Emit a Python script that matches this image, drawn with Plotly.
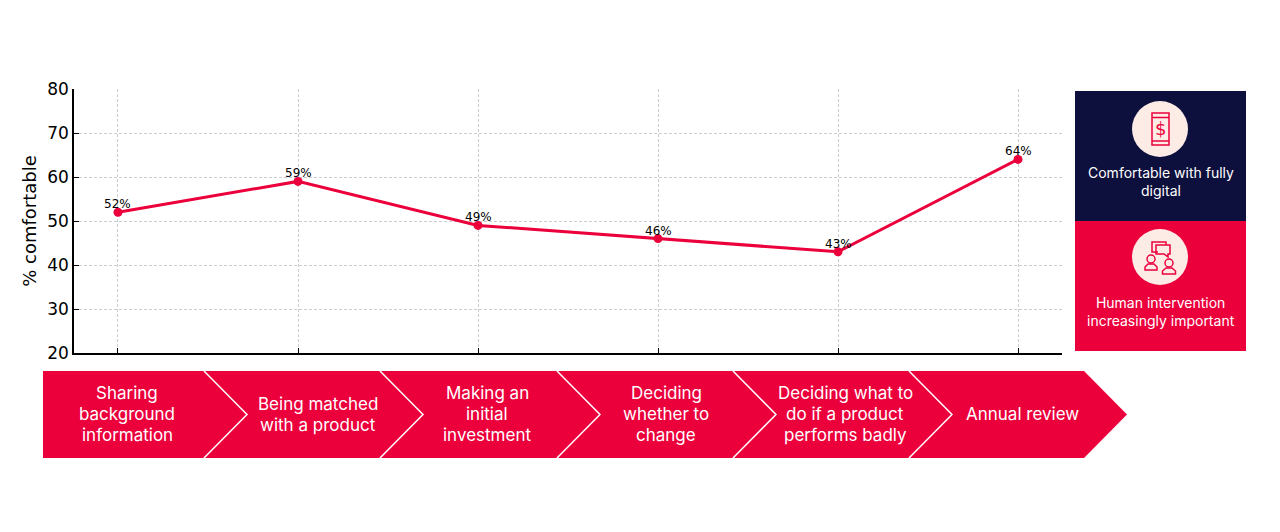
"""
Comfort with digital advice at each stage of the customer journey.
"""

import plotly.graph_objects as go

stages = ['Sharing background information', 'Being matched with a product', 'Making an initial investment',
          'Deciding whether to change', 'Deciding what to do if a product performs badly', 'Annual review']
comfortable = [52, 59, 49, 46, 43, 64]
value_labels = ['52%', '59%', '49%', '46%', '43%', '64%']
y_ticks = [20, 30, 40, 50, 60, 70, 80]

stage_lines = [['Sharing', 'background', 'information'], ['Being matched', 'with a product'],
               ['Making an', 'initial', 'investment'], ['Deciding', 'whether to', 'change'],
               ['Deciding what to', 'do if a product', 'performs badly'], ['Annual review']]
panel_labels = ['Comfortable with fully<br>digital', 'Human intervention<br>increasingly important']

W, H = 1280, 532
RED = '#EB003C'
NAVY = '#0D0F3D'
BLUSH = '#FDEBE6'
BODY_FONT = 'Inter'
AXIS_FONT = 'DejaVu Sans'
GRID = '#CCCCCC'


def fx(x):
    return x / W


def fy(y):
    return 1 - y / H


def path_shape(points, fill=None, line=None, width=1.5, close=True):
    """Build a shape from pixel points, given in page coordinates."""
    d = 'M' + ' L'.join(f'{fx(x):.5f},{fy(y):.5f}' for x, y in points) + (' Z' if close else '')
    return dict(type='path', xref='paper', yref='paper', path=d, fillcolor=fill or 'rgba(0,0,0,0)',
                line=dict(color=line or 'rgba(0,0,0,0)', width=width))


def oval(x0, y0, x1, y1, fill=None, line=None, width=1.5):
    return dict(type='circle', xref='paper', yref='paper', x0=fx(x0), x1=fx(x1), y0=fy(y1), y1=fy(y0),
                fillcolor=fill or 'rgba(0,0,0,0)', line=dict(color=line or 'rgba(0,0,0,0)', width=width))


def box(x0, y0, x1, y1, fill=None, line=None, width=1.5):
    return dict(type='rect', xref='paper', yref='paper', x0=fx(x0), x1=fx(x1), y0=fy(y1), y1=fy(y0),
                fillcolor=fill or 'rgba(0,0,0,0)', line=dict(color=line or 'rgba(0,0,0,0)', width=width))


def person(cx, head_y, half):
    """Outline of a head and shoulders icon."""
    body = [(cx - half, head_y + 11), (cx - half, head_y + 8), (cx - 3, head_y + 5), (cx + 3, head_y + 5),
            (cx + half, head_y + 8), (cx + half, head_y + 11)]
    return [oval(cx - 4, head_y - 4, cx + 4, head_y + 4, line=RED), path_shape(body, line=RED)]


def page_text(x, y, text, size, color='#FFFFFF', family=BODY_FONT):
    return dict(x=fx(x), y=fy(y), xref='paper', yref='paper', text=text, showarrow=False, align='center',
                xanchor='center', yanchor='middle', font=dict(family=family, size=size, color=color))


positions = list(range(len(stages)))

fig = go.Figure(go.Scatter(x=positions, y=comfortable, customdata=stages, mode='lines+markers',
                           line=dict(color=RED, width=3), marker=dict(color=RED, size=9),
                           cliponaxis=False, showlegend=False))

shapes = []

# journey band and the white chevrons dividing it
shapes.append(path_shape([(43, 371), (1084, 371), (1127, 414.5), (1084, 458), (43, 458)], fill=RED))
for x in [204, 380, 557, 733, 909]:
    shapes.append(path_shape([(x, 371), (x + 43, 414.5), (x, 458)], line='#FFFFFF', width=1.5, close=False))

# side panels
shapes.append(box(1075, 91, 1246, 221, fill=NAVY))
shapes.append(box(1075, 221, 1246, 351, fill=RED))
shapes.append(oval(1132, 101, 1188, 157, fill=BLUSH))
shapes.append(oval(1132, 229, 1188, 285, fill=BLUSH))

# phone icon
shapes.append(box(1152, 113, 1169, 145, line=RED))
shapes.append(path_shape([(1152, 117.5), (1169, 117.5)], line=RED, close=False))
shapes.append(path_shape([(1152, 141), (1169, 141)], line=RED, close=False))

# chat and people icon
shapes.append(path_shape([(1158, 252), (1152, 252), (1152, 242), (1166, 242), (1166, 245)], line=RED, close=False))
shapes.append(path_shape([(1156, 245), (1170, 245), (1170, 254), (1168, 254), (1168, 257), (1164, 254), (1156, 254)],
                         line=RED))
shapes.extend(person(1151, 259, 6))
shapes.extend(person(1169, 263, 6.5))

annotations = []
for pos, value, label in zip(positions, comfortable, value_labels):
    annotations.append(dict(x=pos, y=value, xref='x', yref='y', text=label, showarrow=False, yshift=8,
                            xanchor='center', yanchor='middle',
                            font=dict(family=AXIS_FONT, size=12, color='#000000')))

stage_centres = [127, 318, 487, 666, 845, 1022]
for lines, x in zip(stage_lines, stage_centres):
    for i, line in enumerate(lines):
        annotations.append(page_text(x, 414 + (i - (len(lines) - 1) / 2) * 21, line, 17))

annotations.append(page_text(1160.5, 182, panel_labels[0], 14))
annotations.append(page_text(1160.5, 311.5, panel_labels[1], 14))
annotations.append(page_text(1160.5, 128.5, '$', 18, color=RED, family=AXIS_FONT))

fig.update_layout(
    width=W, height=H, margin=dict(l=0, r=0, t=0, b=0), paper_bgcolor='#FFFFFF', plot_bgcolor='#FFFFFF',
    shapes=shapes, annotations=annotations,
    xaxis=dict(domain=[fx(74), fx(1062)], range=[-0.2444, 5.2444], tickvals=positions, automargin=False,
               showticklabels=False, ticks='inside', ticklen=5, tickcolor='#000000', showgrid=True,
               gridcolor=GRID, griddash='3px,2px', gridwidth=1, showline=True, linecolor='#000000', linewidth=1.5,
               zeroline=False),
    yaxis=dict(domain=[fy(353), fy(89)], range=[20, 80], tickvals=y_ticks, ticks='inside', ticklen=5,
               automargin=False, tickcolor='#000000', tickfont=dict(family=AXIS_FONT, size=17, color='#000000'),
               title=dict(text='% comfortable', font=dict(family=AXIS_FONT, size=18, color='#000000'), standoff=6),
               showgrid=True, gridcolor=GRID, griddash='3px,2px', gridwidth=1, showline=True, linecolor='#000000',
               linewidth=1.5, zeroline=False),
)

fig.write_html("out.html", config=dict(displayModeBar=False), post_script="document.body.style.margin='0';")
